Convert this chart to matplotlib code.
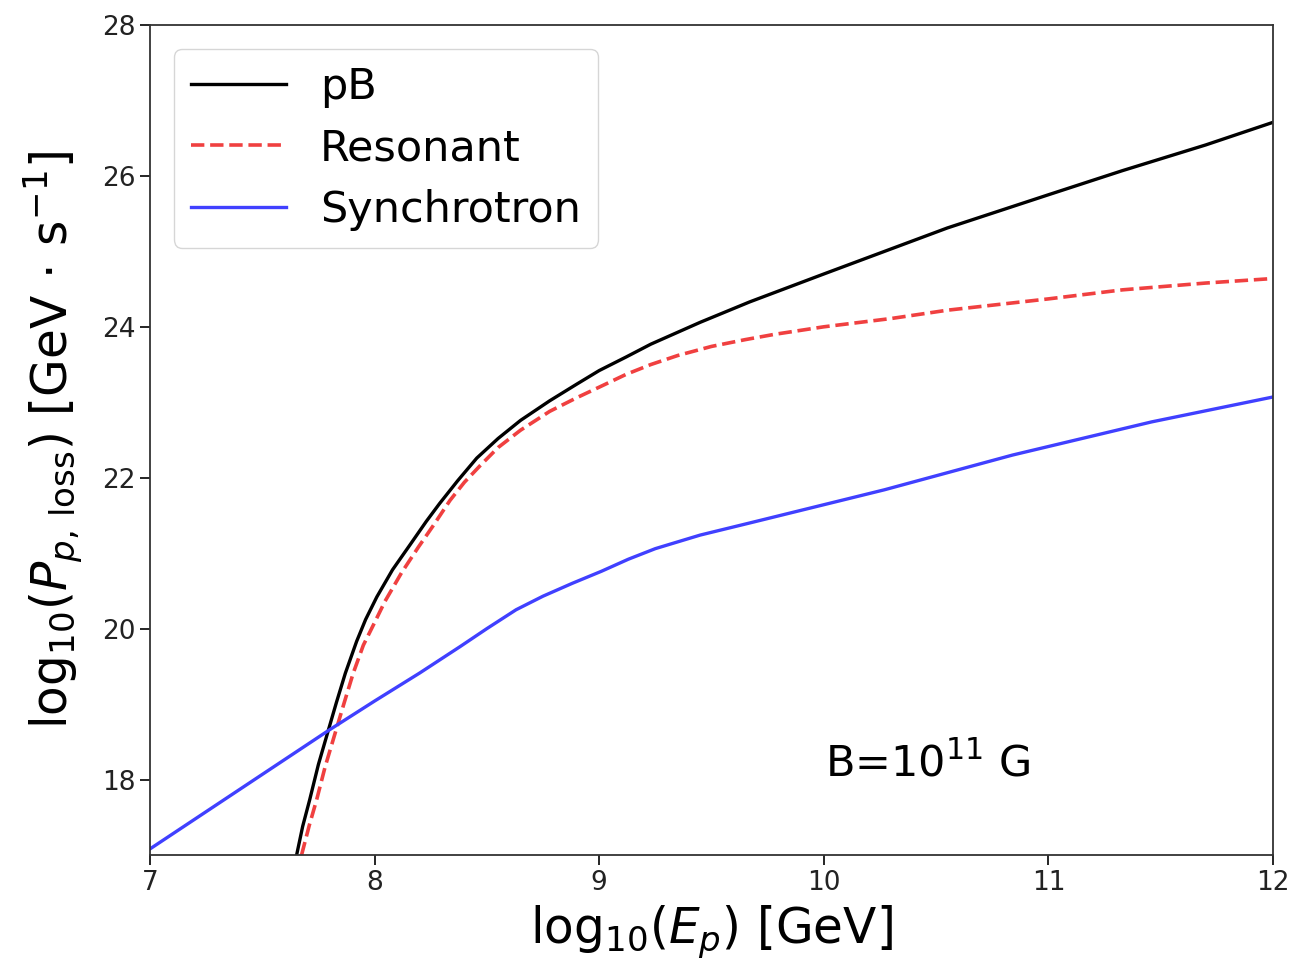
import matplotlib
matplotlib.use("Agg")
import matplotlib.pyplot as plt

# ---------- DATA ----------
pb_x = [7.653, 7.68, 7.711, 7.75, 7.79, 7.83, 7.87, 7.92, 7.96, 8.01,
        8.08, 8.16, 8.23, 8.29, 8.37, 8.455, 8.55, 8.65, 8.78, 8.9,
        9.0, 9.12, 9.23, 9.45, 9.67, 10.0, 10.55, 11.0, 11.33, 11.7, 12.0]
pb_y = [17.0, 17.38, 17.73, 18.2, 18.61, 19.02, 19.41, 19.83, 20.12, 20.42,
        20.78, 21.12, 21.42, 21.66, 21.96, 22.26, 22.52, 22.76, 23.02, 23.24,
        23.42, 23.6, 23.77, 24.06, 24.33, 24.7, 25.31, 25.75, 26.07, 26.41, 26.71]

res_x = [7.675, 7.71, 7.742, 7.78, 7.824, 7.865, 7.905, 7.95, 8.0, 8.046,
         8.12, 8.195, 8.26, 8.336, 8.4, 8.47, 8.55, 8.65, 8.78, 8.9,
         9.0, 9.12, 9.23, 9.35, 9.5, 9.65, 9.78, 10.0, 10.3, 10.55,
         11.0, 11.33, 11.7, 12.0]
res_y = [17.0, 17.4, 17.73, 18.17, 18.61, 19.02, 19.41, 19.78, 20.08, 20.36,
         20.74, 21.08, 21.36, 21.7, 21.94, 22.16, 22.4, 22.63, 22.88, 23.06,
         23.2, 23.37, 23.5, 23.62, 23.74, 23.83, 23.9, 24.0, 24.11, 24.22,
         24.37, 24.49, 24.58, 24.64]

syn_x = [7.0, 7.4, 7.8, 8.0, 8.2, 8.38, 8.5, 8.63, 8.75, 8.88,
         9.01, 9.13, 9.25, 9.45, 9.67, 10.27, 10.84, 11.46, 12.0]
syn_y = [17.08, 17.87, 18.66, 19.04, 19.41, 19.76, 20.0, 20.25, 20.43, 20.6,
         20.76, 20.92, 21.06, 21.24, 21.40, 21.84, 22.30, 22.74, 23.07]

# ---------- PLOT ----------
fig = plt.figure(figsize=(12.95, 9.73), dpi=100)
ax = fig.add_axes([0.1158, 0.1213, 0.8672, 0.853])

ax.plot(pb_x, pb_y, color="black", lw=2.4, label="pB")
ax.plot(res_x, res_y, color="#f04040", lw=2.6, ls="--", label="Resonant")
ax.plot(syn_x, syn_y, color="#4040ff", lw=2.4, label="Synchrotron")

ax.set_xlim(7, 12)
ax.set_ylim(17, 28)
ax.set_xticks([7, 8, 9, 10, 11, 12])
ax.set_yticks([18, 20, 22, 24, 26, 28])
ax.tick_params(labelsize=19, length=7, width=1.2, labelcolor="#222222")
for s in ax.spines.values():
    s.set_linewidth(1.3)
    s.set_color("#333333")

ax.set_xlabel(r"$\mathrm{log}_{10}(E_p)$ [GeV]", fontsize=35, labelpad=6)
ax.set_ylabel(r"$\mathrm{log}_{10}(P_{p,\,\mathrm{loss}})$ [GeV$\,\cdot\,$s$^{-1}$]",
              fontsize=35, labelpad=12)

ax.text(0.601, 0.095, r"B=10$^{11}$ G", transform=ax.transAxes, fontsize=31)

ax.legend(loc="upper left", fontsize=31, handlelength=2.2,
          frameon=True, fancybox=True, labelspacing=0.45, borderpad=0.4,
          borderaxespad=0.55)

plt.savefig("out.png", dpi=100)
